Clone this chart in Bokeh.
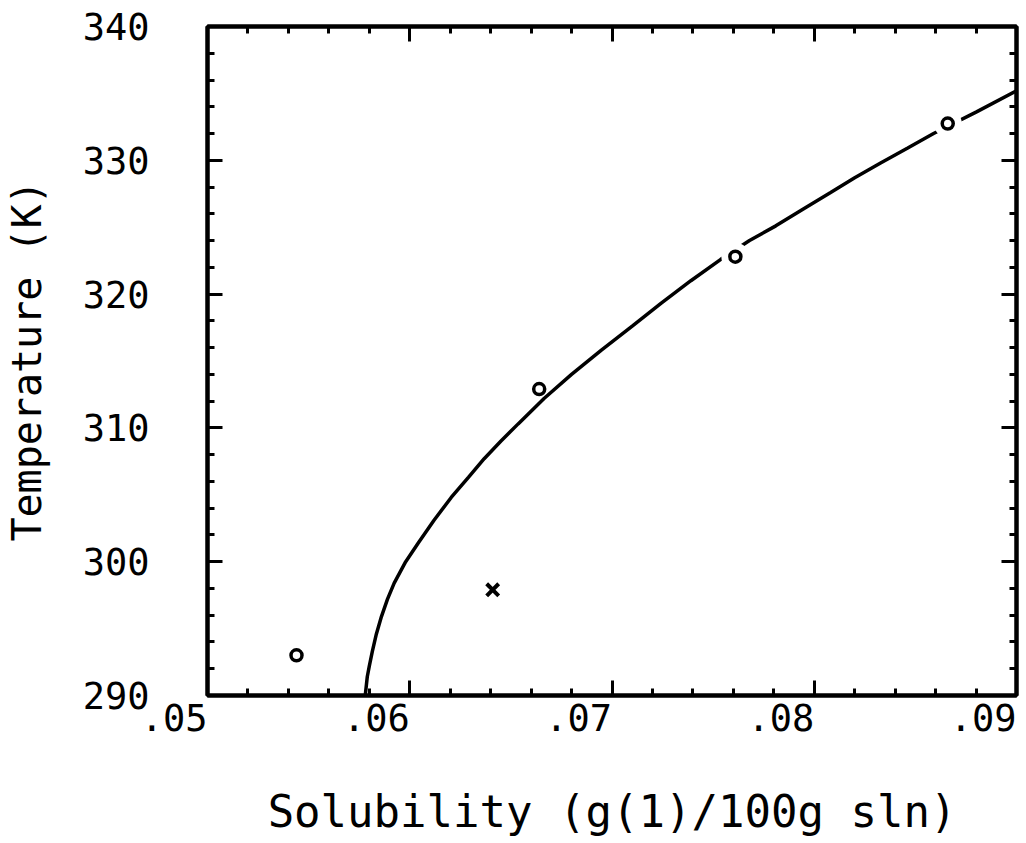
from bokeh.plotting import figure
from bokeh.models import (Range1d, SingleIntervalTicker, LinearAxis,
                          ColumnDataSource, CDSView, IndexFilter, CustomJSTickFormatter)
from bokeh.embed import file_html
from bokeh.resources import INLINE

# ---------------- data ----------------
meas_solubility = [0.0544, 0.0664, 0.0761, 0.0866]
meas_temperature = [293.0, 312.9, 322.8, 332.75]

other_solubility = [0.0641]
other_temperature = [297.9]

curve_solubility = [0.05780, 0.05790, 0.05800, 0.05815, 0.05835, 0.05860, 0.05890,
                    0.05923, 0.05980, 0.06042, 0.06120, 0.06205, 0.06290, 0.06368,
                    0.06450, 0.06536, 0.06664, 0.06800, 0.06946, 0.07100, 0.07242,
                    0.07390, 0.07538, 0.07680, 0.07810, 0.07950, 0.08081, 0.08200,
                    0.08328, 0.08460, 0.08590, 0.08800, 0.09000]
curve_temperature = [290.0, 291.4, 292.2, 293.3, 294.6, 295.9, 297.2,
                     298.4, 300.0, 301.4, 303.1, 304.8, 306.3, 307.7,
                     309.0, 310.3, 312.2, 314.0, 315.8, 317.6, 319.3,
                     321.0, 322.6, 324.0, 325.1, 326.4, 327.6, 328.7,
                     329.8, 330.9, 332.0, 333.6, 335.2]

x_ticks = [0.05, 0.06, 0.07, 0.08, 0.09]
x_tick_labels = [".05", ".06", ".07", ".08", ".09"]
y_ticks = [290, 300, 310, 320, 330, 340]

x_title = "Solubility (g(1)/100g sln)"
y_title = "Temperature (K)"

FONT = "DejaVu Sans Mono"

# ---------------- figure ----------------
p = figure(width=1026, height=843,
           x_range=Range1d(x_ticks[0], x_ticks[-1]), y_range=Range1d(y_ticks[0], y_ticks[-1]),
           output_backend="svg", toolbar_location=None,
           min_border_left=206, min_border_right=10,
           min_border_top=26, min_border_bottom=148)
p.xgrid.visible = False
p.ygrid.visible = False
p.outline_line_color = "black"
p.outline_line_width = 4
p.background_fill_color = "white"
p.border_fill_color = "white"

blank = CustomJSTickFormatter(code="return ''")


def style(ax):
    ax.axis_line_width = 4
    ax.axis_line_color = "black"
    ax.major_tick_in = 15
    ax.major_tick_out = 0
    ax.minor_tick_in = 7
    ax.minor_tick_out = 0
    ax.major_tick_line_width = 3
    ax.minor_tick_line_width = 3
    ax.major_tick_line_color = "black"
    ax.minor_tick_line_color = "black"


# bottom axis
xax = p.xaxis[0]
xax.ticker = SingleIntervalTicker(interval=0.01, num_minor_ticks=5)
style(xax)
xax.formatter = CustomJSTickFormatter(
    args=dict(tvals=x_ticks, tlabels=x_tick_labels),
    code="""
let best = 0;
for (let i = 0; i < tvals.length; i++) {
  if (Math.abs(tvals[i] - tick) < Math.abs(tvals[best] - tick)) best = i;
}
return tlabels[best];
""")
xax.major_label_text_font = FONT
xax.major_label_text_font_size = "37px"
xax.major_label_text_color = "black"
xax.major_label_orientation = 0.0001
xax.major_label_standoff = 22
xax.axis_label = x_title
xax.axis_label_text_font = FONT
xax.axis_label_text_font_size = "44px"
xax.axis_label_text_font_style = "normal"
xax.axis_label_text_color = "black"
xax.axis_label_standoff = 38

# left axis
yax = p.yaxis[0]
yax.ticker = SingleIntervalTicker(interval=10, num_minor_ticks=5)
style(yax)
yax.major_label_text_font = FONT
yax.major_label_text_font_size = "37px"
yax.major_label_text_color = "black"
yax.major_label_standoff = 58
yax.axis_label = y_title
yax.axis_label_text_font = FONT
yax.axis_label_text_font_size = "40px"
yax.axis_label_text_font_style = "normal"
yax.axis_label_text_color = "black"
yax.axis_label_standoff = 30

# top and right axes: ticks only
top = LinearAxis(ticker=SingleIntervalTicker(interval=0.01, num_minor_ticks=5), formatter=blank)
style(top)
top.major_label_standoff = 0
p.add_layout(top, "above")
right = LinearAxis(ticker=SingleIntervalTicker(interval=10, num_minor_ticks=5), formatter=blank)
style(right)
right.major_label_standoff = 0
p.add_layout(right, "right")

# ---------------- glyphs ----------------
p.line(curve_solubility, curve_temperature, line_color="black", line_width=3.5)

meas = ColumnDataSource(dict(s=meas_solubility, t=meas_temperature))
p.scatter("s", "t", source=meas, view=CDSView(filter=IndexFilter([2, 3])),
          marker="circle", size=28, fill_color="white", line_color=None)
p.scatter("s", "t", source=meas, marker="circle", size=11,
          fill_color="white", line_color="black", line_width=3.5)

p.scatter(other_solubility, other_temperature, marker="x", size=17,
          line_color="black", line_width=4)

open("out.html", "w").write(file_html(p, INLINE))
